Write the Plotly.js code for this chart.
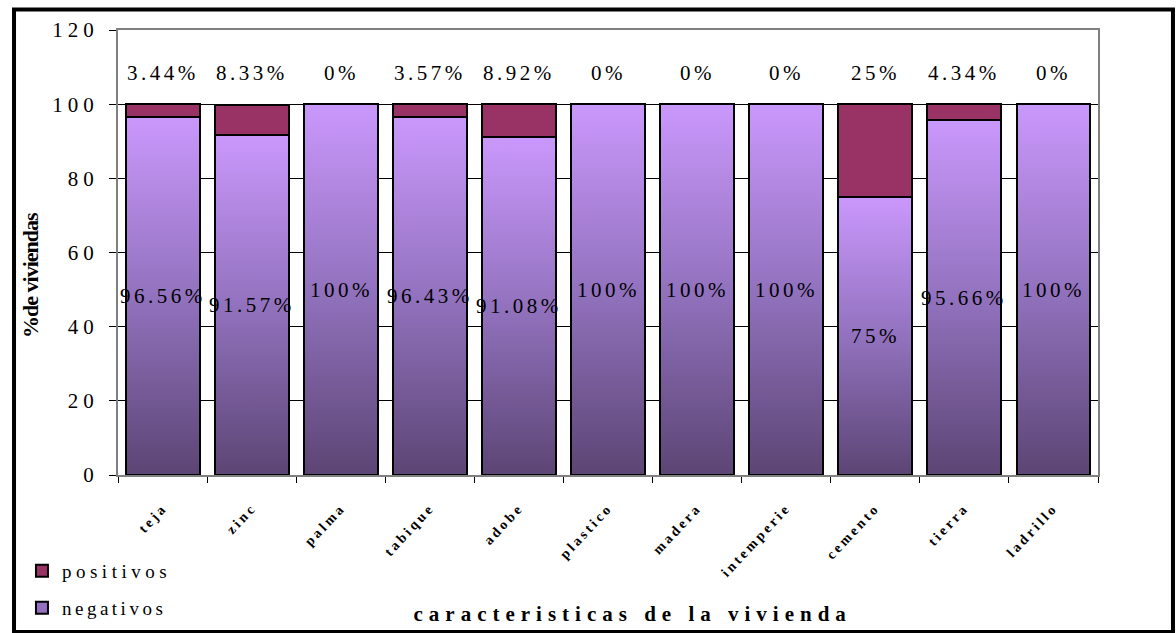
<!DOCTYPE html>
<html>
<head>
<meta charset="utf-8">
<script src="https://cdn.plot.ly/plotly-3.0.1.min.js"></script>
<style>
  html, body { margin: 0; padding: 0; background: #fff; }
  #chart { width: 1176px; height: 633px; }
  svg text { letter-spacing: 3.5px; }
  svg text.legendtext { letter-spacing: 4.5px !important; }
  #chart .xtick text { letter-spacing: 3px !important; }
  #chart .ytick text { letter-spacing: 5px !important; }
</style>
</head>
<body>
<div id="chart"></div>
<script>
// Housing characteristics: share of positive / negative dwellings
const categories = ['teja', 'zinc', 'palma', 'tabique', 'adobe', 'plastico',
                    'madera', 'intemperie', 'cemento', 'tierra', 'ladrillo'];
const positivos = [3.44, 8.33, 0, 3.57, 8.92, 0, 0, 0, 25, 4.34, 0];
const negativos = [96.56, 91.57, 100, 96.43, 91.08, 100, 100, 100, 75, 95.66, 100];
const yTicks = [0, 20, 40, 60, 80, 100, 120];
const xTitle = 'caracteristicas de la vivienda';
const yTitle = '%de viviendas';

const serif = 'Liberation Serif, Times New Roman, serif';
const pct = v => v + '%';

const traces = [
  {
    type: 'bar', name: 'negativos', x: categories, y: negativos,
    marker: { color: '#9470C0', line: { color: '#000', width: 2 } },
    legend: 'legend2', showlegend: true, hoverinfo: 'none'
  },
  {
    type: 'bar', name: 'positivos', x: categories, y: positivos,
    marker: { color: '#993366', line: { color: '#000', width: 2 } },
    legend: 'legend', showlegend: true, hoverinfo: 'none'
  }
];

// value labels: positive share above the stack, negative share mid-bar
const annotations = [];
categories.forEach((c, i) => {
  annotations.push({
    x: c, y: 108.5, xref: 'x', yref: 'y', text: pct(positivos[i]),
    showarrow: false, yanchor: 'middle',
    font: { family: serif, size: 21, color: '#000' }
  });
  annotations.push({
    x: c, y: negativos[i] / 2, xref: 'x', yref: 'y', text: pct(negativos[i]),
    showarrow: false, yanchor: 'middle',
    font: { family: serif, size: 21, color: '#000' }
  });
});

// axis captions
annotations.push({
  x: -0.0898, y: 0.449, xref: 'paper', yref: 'paper', text: yTitle,
  textangle: -90, showarrow: false, xanchor: 'center', yanchor: 'middle',
  font: { family: serif, size: 22, color: '#000', weight: 'bold' }
});
annotations.push({
  x: 0.5245, y: -0.3124, xref: 'paper', yref: 'paper', text: xTitle,
  showarrow: false, xanchor: 'center', yanchor: 'middle',
  font: { family: serif, size: 21, color: '#000', weight: 'bold' }
});

const layout = {
  width: 1176, height: 633,
  margin: { l: 118, r: 78, t: 30, b: 158, autoexpand: false },
  paper_bgcolor: '#fff', plot_bgcolor: '#fff',
  barmode: 'stack', bargap: 0.17, showlegend: true,
  font: { family: serif, color: '#000' },
  xaxis: {
    type: 'category', tickson: 'boundaries', ticks: 'outside', ticklen: 6,
    tickcolor: '#000', tickangle: -47, ticklabelstandoff: 17,
    tickfont: { family: serif, size: 14, color: '#000', weight: 'bold' },
    showline: true, linecolor: '#808080', linewidth: 2, mirror: true,
    showgrid: false, automargin: false
  },
  yaxis: {
    range: [0, 120], tickvals: yTicks, ticks: 'outside', ticklen: 7,
    tickcolor: '#000', ticklabelstandoff: 6,
    tickfont: { family: serif, size: 21, color: '#000' },
    showline: true, linecolor: '#808080', linewidth: 2, mirror: true,
    showgrid: true, gridcolor: '#000', gridwidth: 1, zeroline: false,
    automargin: false
  },
  legend: {
    x: -0.098, y: -0.2157, xanchor: 'left', yanchor: 'middle',
    font: { family: serif, size: 19, color: '#000' }, bgcolor: 'rgba(0,0,0,0)'
  },
  legend2: {
    x: -0.098, y: -0.2989, xanchor: 'left', yanchor: 'middle',
    font: { family: serif, size: 19, color: '#000' }, bgcolor: 'rgba(0,0,0,0)'
  },
  annotations: annotations,
  shapes: [{
    type: 'rect', xref: 'paper', yref: 'paper',
    x0: -0.1061, x1: 1.0765, y0: -0.3528, y1: 1.046,
    line: { color: '#000', width: 4 }, fillcolor: 'rgba(0,0,0,0)'
  }]
};

Plotly.newPlot('chart', traces, layout, { staticPlot: true, displayModeBar: false })
  .then(gd => {
    // vertical lavender-to-dusk gradient for the "negativos" fill
    const svg = gd.querySelector('.main-svg');
    const ns = 'http://www.w3.org/2000/svg';
    let defs = svg.querySelector('defs');
    if (!defs) { defs = document.createElementNS(ns, 'defs'); svg.prepend(defs); }
    const grad = document.createElementNS(ns, 'linearGradient');
    grad.setAttribute('id', 'negGrad');
    grad.setAttribute('x1', '0'); grad.setAttribute('y1', '0');
    grad.setAttribute('x2', '0'); grad.setAttribute('y2', '1');
    [['0', '#CA98FC'], ['0.5', '#9272BE'], ['1', '#5C4574']].forEach(([o, c]) => {
      const s = document.createElementNS(ns, 'stop');
      s.setAttribute('offset', o); s.setAttribute('stop-color', c);
      grad.appendChild(s);
    });
    defs.appendChild(grad);

    const negBars = gd.querySelectorAll('.barlayer .trace.bars')[0];
    negBars.querySelectorAll('.point path').forEach(p => { p.style.fill = 'url(#negGrad)'; });

    gd.querySelectorAll('.legendtext').forEach(label => {
      if (label.textContent === 'negativos') {
        const item = label.closest('.traces');
        item.querySelectorAll('.legendpoints path').forEach(p => { p.style.fill = 'url(#negGrad)'; });
      }
    });

    // caption spacing: condensed vertical caption, widely tracked horizontal one
    gd.querySelectorAll('.annotation-text').forEach(t => {
      if (t.textContent === yTitle) t.style.letterSpacing = '-1px';
      if (t.textContent === xTitle) t.style.letterSpacing = '6px';
    });
  });
</script>
</body>
</html>
